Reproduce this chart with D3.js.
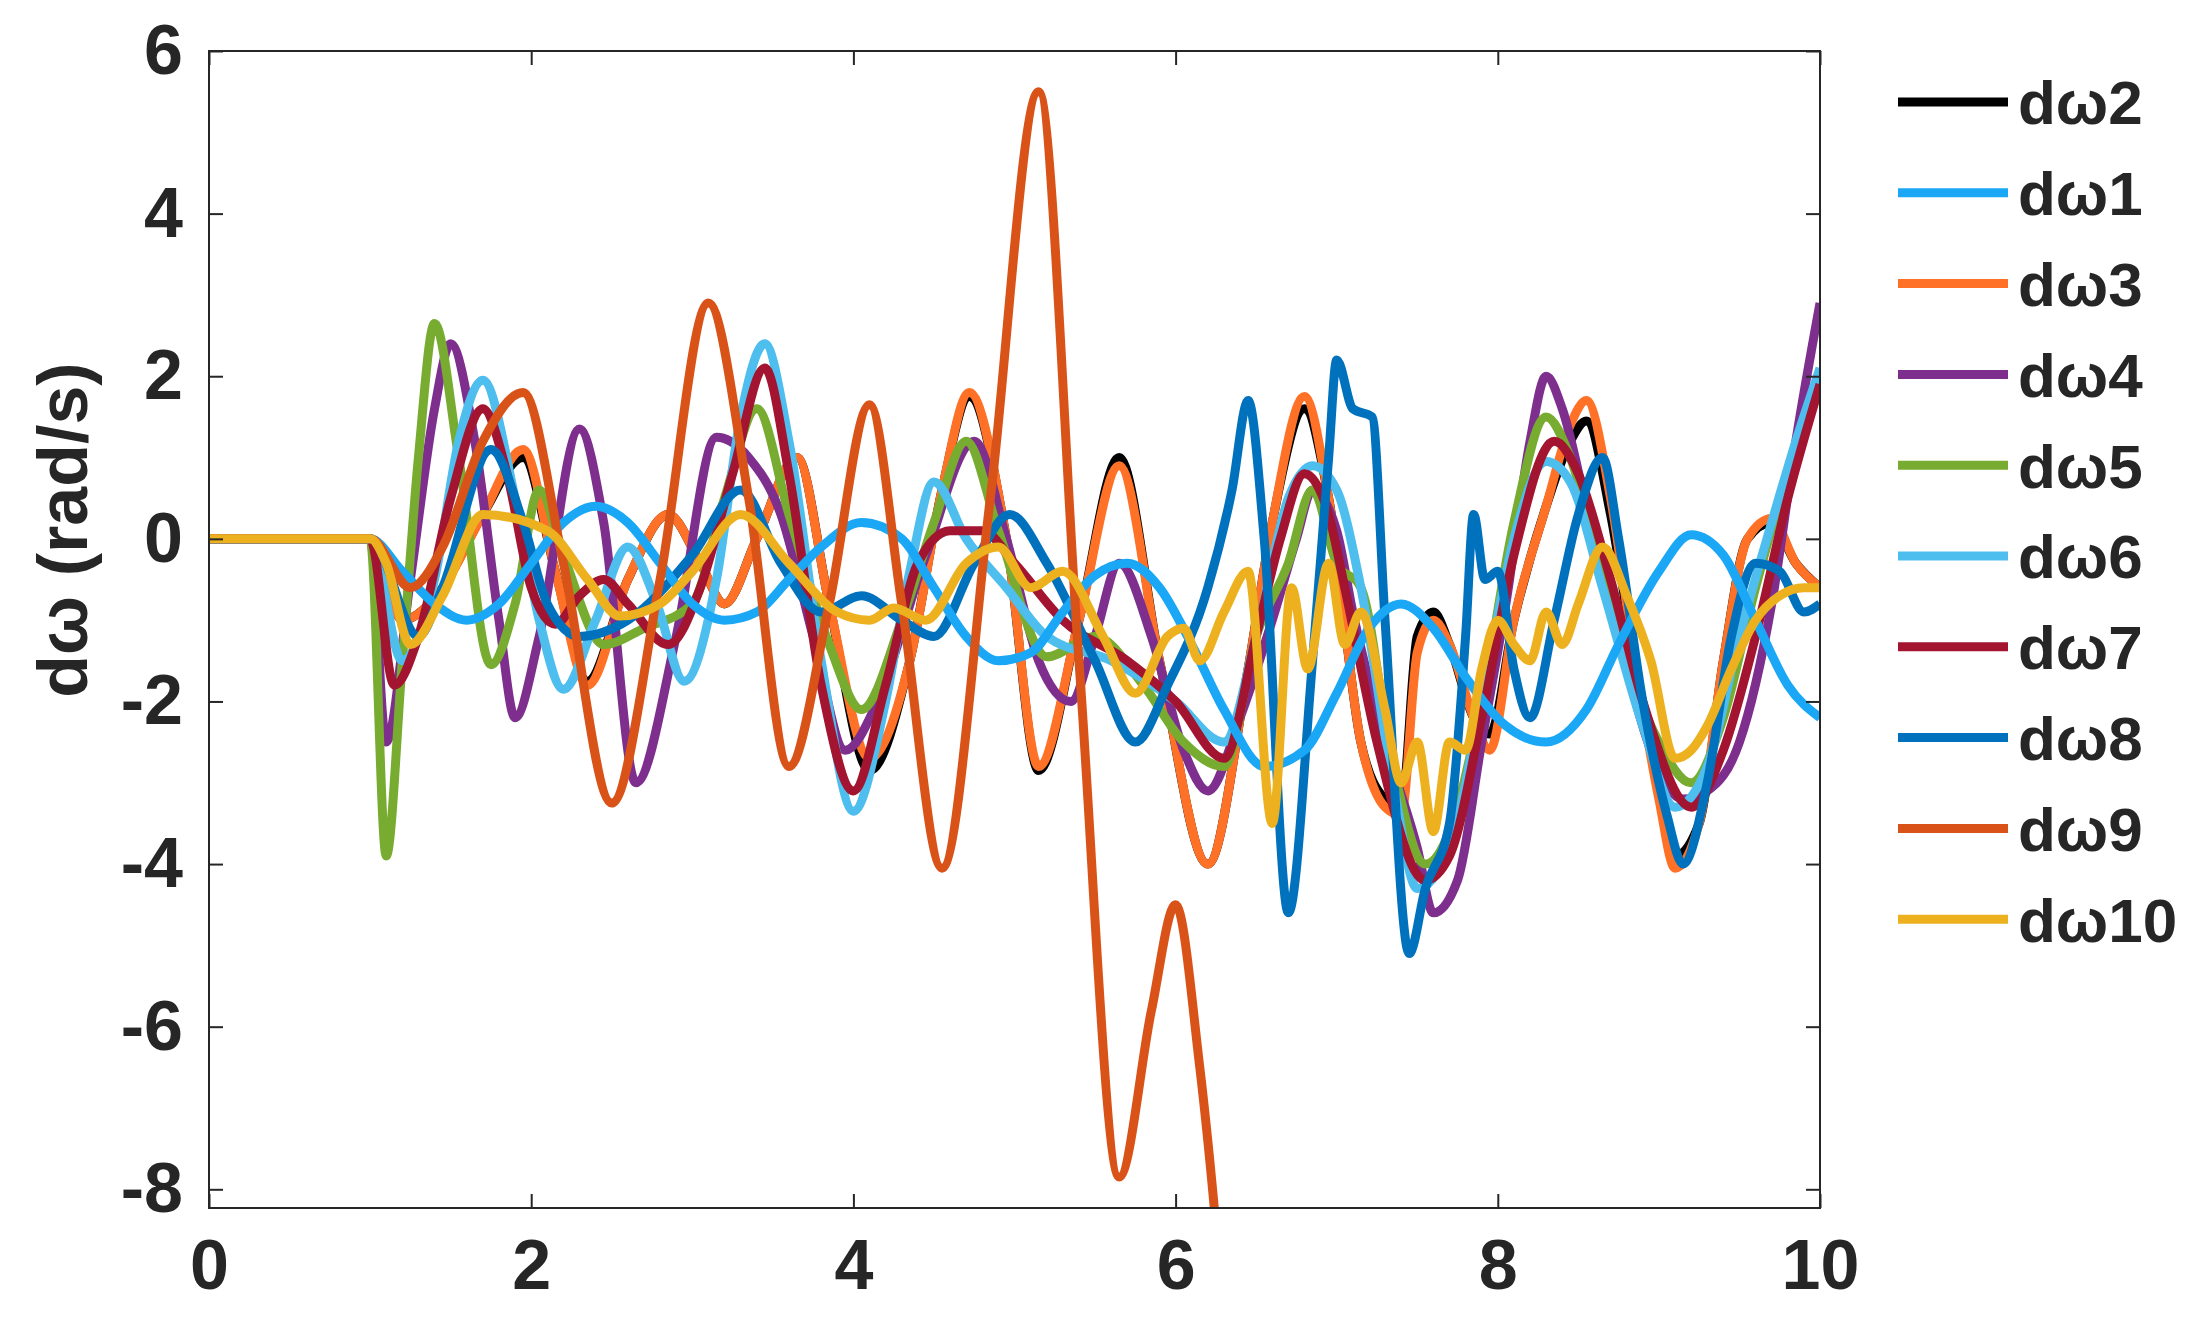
<!DOCTYPE html>
<html>
<head>
<meta charset="utf-8">
<script src="https://cdn.jsdelivr.net/npm/d3@7"></script>
<style>
  body { margin: 0; background: #fff; }
  text { font-family: "Liberation Sans", Arial, sans-serif; font-weight: bold; fill: #262626; }
</style>
</head>
<body>
<svg id="chart"></svg>
<script>
const width = 2204;
const height = 1323;
const margin = { top: 51, right: 384, bottom: 115, left: 209 };

const xTicks = [0, 2, 4, 6, 8, 10];
const yTicks = [-8, -6, -4, -2, 0, 2, 4, 6];

const seriesNames = ["dω2", "dω1", "dω3", "dω4", "dω5", "dω6", "dω7", "dω8", "dω9", "dω10"];
const seriesColors = ["#000000", "#1AA7F5", "#FF7126", "#7E2F8E", "#77AC30", "#4DBEEE", "#A2142F", "#0072BD", "#D95319", "#EDB120"];

// [t, value] pairs
const dw1 = [[0,0],[1,0],[1.2,-0.4],[1.4,-0.8],[1.6,-1.0],[1.8,-0.8],[2.0,-0.3],[2.2,0.2],[2.4,0.4],[2.6,0.2],[2.8,-0.3],[3.0,-0.8],[3.2,-1.0],[3.4,-0.9],[3.6,-0.5],[3.8,-0.1],[4.05,0.2],[4.3,0.0],[4.5,-0.6],[4.7,-1.2],[4.9,-1.5],[5.1,-1.4],[5.3,-0.9],[5.5,-0.45],[5.7,-0.3],[5.9,-0.6],[6.1,-1.3],[6.3,-2.1],[6.55,-2.8],[6.8,-2.6],[7.0,-1.9],[7.2,-1.1],[7.4,-0.8],[7.6,-1.1],[7.8,-1.7],[8.05,-2.3],[8.3,-2.5],[8.55,-2.1],[8.75,-1.3],[9.0,-0.4],[9.2,0.05],[9.4,-0.2],[9.6,-1.0],[9.8,-1.8],[10,-2.2]];
const dw2 = [[0,0],[1,0],[1.2,-1.0],[1.45,-0.6],[1.7,0.3],[1.95,1.0],[2.15,-0.4],[2.35,-1.75],[2.6,-0.5],[2.85,0.3],[3.05,-0.3],[3.2,-0.8],[3.4,0.0],[3.65,1.0],[3.85,-0.8],[4.1,-2.85],[4.35,-1.5],[4.55,0.6],[4.72,1.75],[4.95,0.0],[5.15,-2.85],[5.4,-1.0],[5.65,1.0],[5.9,-1.5],[6.2,-4.0],[6.45,-1.6],[6.6,0.2],[6.8,1.6],[6.95,0.5],[7.15,-2.5],[7.3,-3.2],[7.4,-3.3],[7.5,-1.2],[7.6,-0.9],[7.7,-1.3],[7.85,-2.2],[7.95,-2.4],[8.1,-1.0],[8.3,0.4],[8.45,1.2],[8.55,1.45],[8.7,0.3],[8.85,-1.5],[9.0,-3.0],[9.1,-3.9],[9.25,-3.5],[9.4,-1.5],[9.55,0.0],[9.7,0.2],[9.85,-0.3],[10,-0.6]];
const dw3 = [[0,0],[1,0],[1.2,-1.0],[1.45,-0.6],[1.7,0.3],[1.95,1.1],[2.15,-0.4],[2.35,-1.8],[2.6,-0.5],[2.85,0.3],[3.05,-0.3],[3.2,-0.8],[3.4,0.0],[3.65,1.0],[3.85,-0.8],[4.1,-2.7],[4.35,-1.5],[4.55,0.6],[4.72,1.8],[4.95,0.0],[5.15,-2.8],[5.4,-1.0],[5.65,0.9],[5.9,-1.5],[6.2,-4.0],[6.45,-1.6],[6.6,0.2],[6.8,1.75],[6.95,0.5],[7.15,-2.5],[7.3,-3.3],[7.4,-3.4],[7.5,-1.4],[7.6,-1.0],[7.7,-1.3],[7.85,-2.2],[7.95,-2.6],[8.1,-1.0],[8.3,0.4],[8.45,1.4],[8.55,1.7],[8.7,0.5],[8.85,-1.5],[9.0,-3.2],[9.1,-4.05],[9.25,-3.5],[9.4,-1.5],[9.55,0.0],[9.7,0.25],[9.85,-0.3],[10,-0.6]];
const dw4 = [[0,0],[1,0],[1.1,-2.5],[1.25,-0.5],[1.4,1.6],[1.5,2.4],[1.65,1.2],[1.8,-1.0],[1.9,-2.2],[2.05,-1.2],[2.3,1.35],[2.45,0.2],[2.65,-3.0],[2.9,-1.2],[3.15,1.25],[3.35,1.0],[3.55,0.3],[3.75,-1.2],[3.95,-2.6],[4.15,-2.0],[4.45,-0.2],[4.75,1.2],[4.95,0.0],[5.15,-1.5],[5.35,-2.0],[5.5,-1.2],[5.65,-0.3],[5.85,-1.2],[6.05,-2.6],[6.2,-3.1],[6.4,-2.2],[6.6,-1.0],[6.75,0.0],[6.85,0.6],[7.0,0.1],[7.1,-0.9],[7.3,-2.5],[7.5,-3.8],[7.6,-4.6],[7.75,-4.2],[7.9,-2.5],[8.05,-0.8],[8.2,1.2],[8.3,2.0],[8.4,1.6],[8.55,0.4],[8.75,-1.2],[8.95,-2.6],[9.15,-3.2],[9.3,-3.1],[9.5,-2.5],[9.7,-0.8],[9.85,1.2],[10,2.9]];
const dw5 = [[0,0],[1,0],[1.1,-3.9],[1.2,-1.5],[1.3,1.0],[1.4,2.65],[1.55,1.0],[1.75,-1.55],[1.9,-0.8],[2.05,0.6],[2.2,-0.2],[2.45,-1.3],[2.7,-1.1],[3.0,-0.8],[3.2,0.5],[3.4,1.6],[3.6,0.3],[3.85,-1.3],[4.05,-2.1],[4.3,-1.0],[4.5,0.2],[4.7,1.2],[4.9,0.1],[5.2,-1.45],[5.5,-1.2],[5.8,-1.8],[6.05,-2.5],[6.3,-2.8],[6.5,-1.2],[6.7,-0.3],[6.85,0.6],[7.0,-0.3],[7.15,-0.6],[7.35,-2.8],[7.55,-4.0],[7.7,-3.6],[7.9,-2.0],[8.1,0.2],[8.3,1.5],[8.45,1.0],[8.6,0.0],[8.8,-1.5],[9.0,-2.5],[9.2,-3.0],[9.4,-2.2],[9.6,-0.6],[9.8,0.8],[10,2.0]];
const dw6 = [[0,0],[1,0],[1.2,-1.5],[1.4,-0.5],[1.55,1.2],[1.7,1.95],[1.9,0.5],[2.05,-1.0],[2.2,-1.85],[2.4,-1.0],[2.6,-0.1],[2.78,-0.8],[2.95,-1.75],[3.15,-0.5],[3.3,1.5],[3.45,2.4],[3.6,1.2],[3.8,-1.5],[4.0,-3.35],[4.2,-2.0],[4.35,-0.4],[4.5,0.7],[4.7,0.0],[4.95,-0.6],[5.2,-1.2],[5.6,-1.5],[6.0,-2.0],[6.3,-2.5],[6.5,-1.2],[6.7,0.5],[6.85,0.9],[7.0,0.6],[7.15,-0.6],[7.35,-3.0],[7.5,-4.3],[7.7,-3.8],[7.9,-2.0],[8.1,0.0],[8.3,0.95],[8.45,0.7],[8.65,-0.6],[8.9,-2.3],[9.1,-3.3],[9.3,-2.8],[9.5,-1.2],[9.7,0.2],[9.85,1.2],[10,2.1]];
const dw7 = [[0,0],[1,0],[1.15,-1.8],[1.3,-1.2],[1.5,0.5],[1.7,1.6],[1.85,0.8],[2.0,-0.6],[2.15,-1.05],[2.3,-0.7],[2.45,-0.5],[2.6,-0.8],[2.85,-1.3],[3.05,-0.6],[3.25,0.8],[3.45,2.1],[3.6,0.8],[3.8,-1.8],[4.0,-3.1],[4.2,-1.8],[4.4,-0.3],[4.6,0.1],[4.8,0.1],[5.0,-0.3],[5.3,-1.0],[5.7,-1.5],[6.0,-2.0],[6.3,-2.7],[6.5,-1.2],[6.65,0.0],[6.8,0.8],[6.95,0.3],[7.05,-0.6],[7.25,-2.5],[7.55,-4.2],[7.7,-3.9],[7.9,-2.2],[8.1,-0.2],[8.35,1.2],[8.5,0.8],[8.7,-0.5],[8.9,-2.0],[9.2,-3.3],[9.4,-2.6],[9.6,-1.2],[9.8,0.5],[10,1.9]];
const dw8 = [[0,0],[1,0],[1.3,-1.2],[1.45,-0.6],[1.75,1.1],[1.95,0.2],[2.1,-0.8],[2.3,-1.2],[2.6,-1.0],[3.0,-0.2],[3.3,0.6],[3.55,-0.3],[3.8,-0.9],[4.05,-0.7],[4.3,-1.0],[4.5,-1.2],[4.75,-0.3],[4.97,0.3],[5.2,-0.3],[5.5,-1.5],[5.75,-2.5],[5.95,-1.8],[6.2,-0.6],[6.35,0.6],[6.45,1.7],[6.55,0.0],[6.7,-4.6],[6.85,-1.5],[6.95,1.0],[7.0,2.2],[7.1,1.6],[7.22,1.5],[7.3,-1.0],[7.45,-5.1],[7.55,-4.3],[7.7,-3.5],[7.8,-1.2],[7.85,0.3],[7.92,-0.5],[8.0,-0.4],[8.1,-1.6],[8.2,-2.2],[8.35,-1.0],[8.5,0.3],[8.65,1.0],[8.75,0.0],[8.9,-2.0],[9.05,-3.4],[9.15,-4.0],[9.3,-3.0],[9.45,-1.2],[9.6,-0.3],[9.75,-0.4],[9.9,-0.9],[10,-0.8]];
const dw9 = [[0,0],[1,0],[1.25,-0.6],[1.45,-0.1],[1.7,1.2],[1.95,1.8],[2.2,-0.3],[2.5,-3.25],[2.8,-0.5],[3.1,2.9],[3.35,0.5],[3.6,-2.8],[3.85,-0.8],[4.1,1.65],[4.3,-0.8],[4.55,-4.05],[4.85,0.5],[5.15,5.5],[5.4,-1.5],[5.65,-7.85],[5.85,-5.8],[6.0,-4.5],[6.15,-6.5],[6.4,-12]];
const dw10 = [[0,0],[1,0],[1.1,-0.3],[1.25,-1.3],[1.45,-0.7],[1.7,0.3],[2.1,0.1],[2.35,-0.5],[2.55,-0.95],[2.8,-0.8],[3.0,-0.4],[3.3,0.3],[3.6,-0.3],[3.9,-0.9],[4.1,-1.0],[4.25,-0.85],[4.45,-1.0],[4.7,-0.3],[4.9,-0.1],[5.1,-0.6],[5.3,-0.4],[5.55,-1.2],[5.75,-1.9],[5.95,-1.2],[6.05,-1.1],[6.15,-1.5],[6.3,-0.9],[6.45,-0.4],[6.6,-3.5],[6.72,-0.6],[6.82,-1.6],[6.95,-0.3],[7.05,-1.3],[7.15,-0.9],[7.3,-2.1],[7.4,-3.0],[7.5,-2.5],[7.6,-3.6],[7.7,-2.5],[7.8,-2.6],[7.9,-1.6],[8.0,-1.0],[8.1,-1.3],[8.2,-1.5],[8.3,-0.9],[8.4,-1.3],[8.5,-0.8],[8.65,-0.1],[8.8,-0.7],[8.95,-1.5],[9.1,-2.7],[9.2,-2.6],[9.3,-2.3],[9.45,-1.6],[9.6,-1.0],[9.75,-0.7],[9.9,-0.6],[10,-0.6]];

const seriesData = [dw2, dw1, dw3, dw4, dw5, dw6, dw7, dw8, dw9, dw10];
// drawing order: last drawn on top
const drawOrder = [0, 2, 3, 4, 5, 6, 7, 1, 8, 9];

const bodyWidth = 1611;
const bodyHeight = height - margin.top - margin.bottom;

const svg = d3.select("#chart").attr("width", width).attr("height", height);
const main = svg.append("g").attr("transform", `translate(${margin.left}, ${margin.top})`);

const xScale = d3.scaleLinear().domain([0, 10]).range([0, bodyWidth]);
const yScale = d3.scaleLinear().domain([-8.23, 6]).range([bodyHeight, 0]);

main.append("clipPath").attr("id", "clip")
  .append("rect").attr("width", bodyWidth).attr("height", bodyHeight);

const line = d3.line()
  .x((d) => xScale(d[0]))
  .y((d) => yScale(d[1]))
  .curve(d3.curveMonotoneX);

main.append("g").attr("clip-path", "url(#clip)")
  .selectAll("path")
  .data(drawOrder)
  .join("path")
  .attr("d", (i) => line(seriesData[i]))
  .attr("fill", "none")
  .attr("stroke", (i) => seriesColors[i])
  .attr("stroke-width", 9)
  .attr("stroke-linejoin", "round");

// axes: ticks inside the box
const axisStyle = (g) => {
  g.select(".domain").remove();
  g.selectAll(".tick line").attr("stroke", "#262626").attr("stroke-width", 2);
  g.selectAll("text").style("font-size", "70px");
};
const fmt = (d) => String(d);

main.append("g").attr("transform", `translate(0, ${bodyHeight})`)
  .call(d3.axisBottom(xScale).tickValues(xTicks).tickSize(-14).tickPadding(28).tickFormat(fmt))
  .call(axisStyle)
  .selectAll("text").attr("dy", "0.75em");

main.append("g")
  .call(d3.axisTop(xScale).tickValues(xTicks).tickSize(-14).tickFormat(""))
  .call(axisStyle);

main.append("g")
  .call(d3.axisLeft(yScale).tickValues(yTicks).tickSize(-14).tickPadding(26).tickFormat(fmt))
  .call(axisStyle);

main.append("g").attr("transform", `translate(${bodyWidth}, 0)`)
  .call(d3.axisRight(yScale).tickValues(yTicks).tickSize(-14).tickFormat(""))
  .call(axisStyle);

main.append("rect")
  .attr("width", bodyWidth).attr("height", bodyHeight)
  .attr("fill", "none").attr("stroke", "#262626").attr("stroke-width", 2);

// y label
svg.append("text")
  .attr("transform", `translate(62, 530) rotate(-90)`)
  .attr("text-anchor", "middle")
  .attr("dy", "0.35em")
  .style("font-size", "70px")
  .text("dω (rad/s)");

// legend
const legend = svg.append("g").attr("transform", "translate(1898, 102)");
const rows = legend.selectAll("g").data(seriesNames).join("g")
  .attr("transform", (_, i) => `translate(0, ${i * 90.8})`);
rows.append("line")
  .attr("x1", 0).attr("x2", 110)
  .attr("stroke", (_, i) => seriesColors[i])
  .attr("stroke-width", 9);
rows.append("text")
  .attr("x", 120).attr("dy", "0.36em")
  .style("font-size", "62px")
  .text((d) => d);
</script>
</body>
</html>
